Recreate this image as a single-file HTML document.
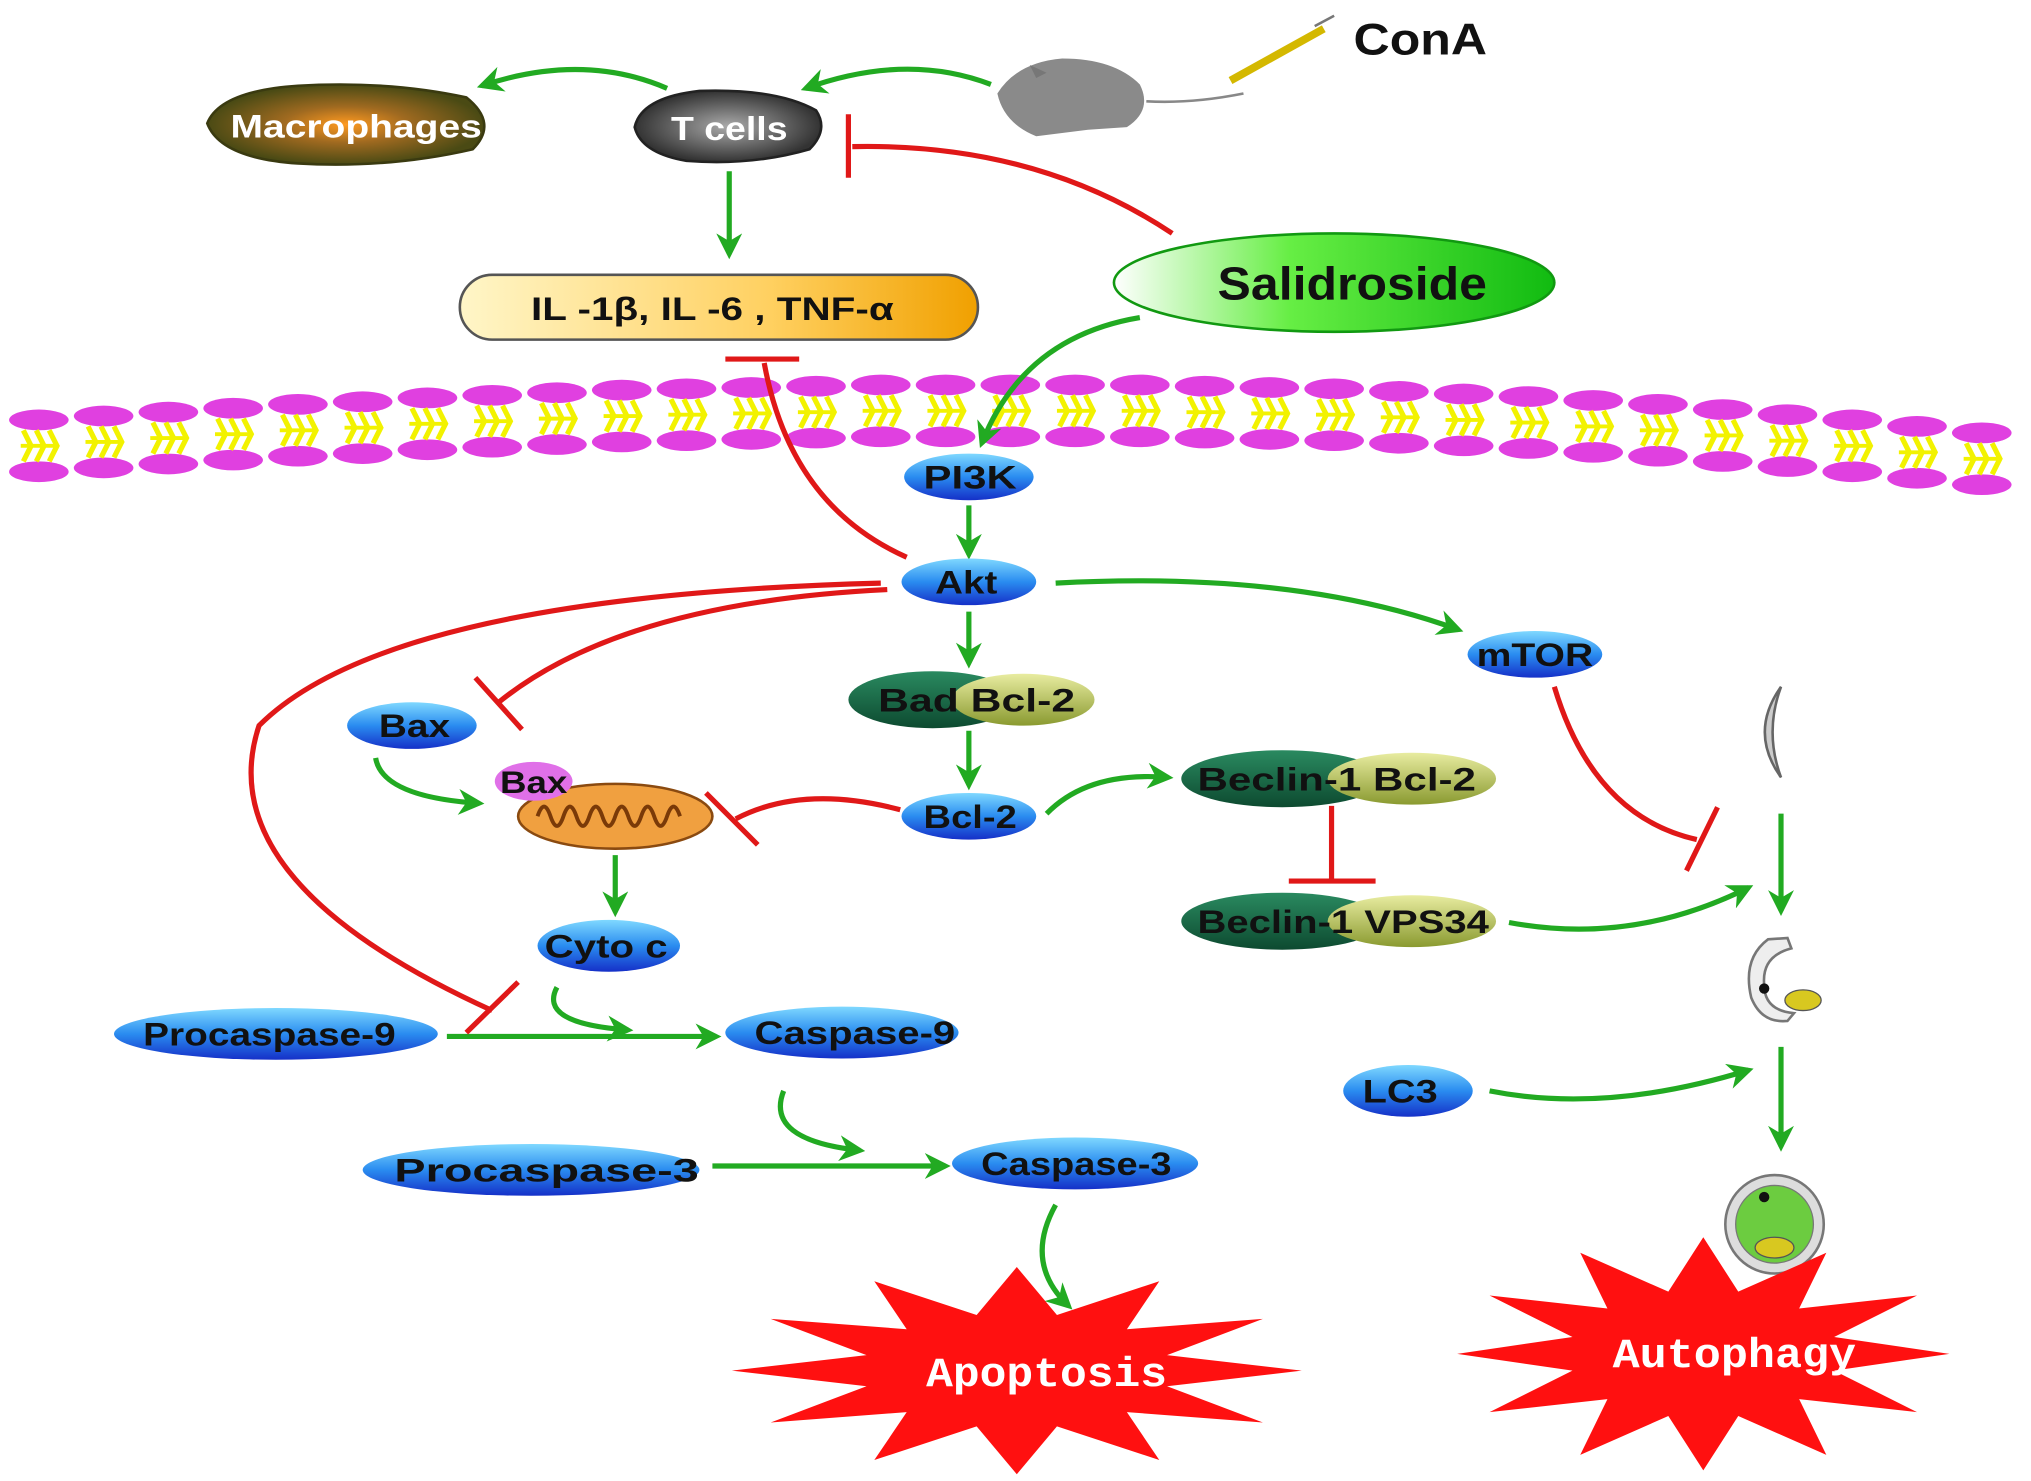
<!DOCTYPE html>
<html><head><meta charset="utf-8"><style>html,body{margin:0;padding:0;background:#fff}svg{display:block}</style></head>
<body>
<svg width="2031" height="1481" viewBox="0 0 1568 1143" xmlns="http://www.w3.org/2000/svg" font-family="Liberation Sans, sans-serif" font-weight="bold">
<defs>
<marker id="ga" viewBox="0 0 10 10" refX="8" refY="5" markerWidth="5" markerHeight="5" orient="auto-start-reverse" markerUnits="strokeWidth"><path d="M0,0 L10,5 L0,10 L3,5 z" fill="#22aa22"/></marker>
<linearGradient id="blue" x1="0" y1="0" x2="0" y2="1"><stop offset="0" stop-color="#7fd8ff"/><stop offset="0.5" stop-color="#2a8cf0"/><stop offset="1" stop-color="#1530c8"/></linearGradient>
<linearGradient id="yel" x1="0" y1="0" x2="1" y2="0"><stop offset="0" stop-color="#fff6c8"/><stop offset="0.6" stop-color="#ffd060"/><stop offset="1" stop-color="#f0a000"/></linearGradient>
<linearGradient id="grn" x1="0" y1="0" x2="1" y2="0"><stop offset="0" stop-color="#ffffff"/><stop offset="0.4" stop-color="#66ee44"/><stop offset="1" stop-color="#11bb11"/></linearGradient>
<linearGradient id="dg" x1="0" y1="0" x2="0" y2="1"><stop offset="0" stop-color="#2a8a60"/><stop offset="1" stop-color="#0d4a30"/></linearGradient>
<linearGradient id="ol" x1="0" y1="0" x2="0" y2="1"><stop offset="0" stop-color="#e8eca0"/><stop offset="1" stop-color="#8a9a30"/></linearGradient>
<radialGradient id="mac"><stop offset="0" stop-color="#ff9a20"/><stop offset="0.45" stop-color="#a06a20"/><stop offset="1" stop-color="#4a4a14"/></radialGradient>
<radialGradient id="tc"><stop offset="0" stop-color="#aaa"/><stop offset="1" stop-color="#333"/></radialGradient>
<g id="mem"><ellipse cx="0" cy="0" rx="23" ry="8" fill="#e040e0"/><ellipse cx="0" cy="40" rx="23" ry="8" fill="#e040e0"/><path d="M-12,8 L-6,20 L-12,32 M-2,8 L4,20 L-2,32 M8,8 L14,20 L8,32" stroke="#f2f200" stroke-width="4" fill="none"/><path d="M-14,20 L14,20" stroke="#f2f200" stroke-width="3"/></g>
</defs>

<g>
<use href="#mem" x="30" y="324"/><use href="#mem" x="80" y="321"/><use href="#mem" x="130" y="318"/><use href="#mem" x="180" y="315"/><use href="#mem" x="230" y="312"/><use href="#mem" x="280" y="310"/><use href="#mem" x="330" y="307"/><use href="#mem" x="380" y="305"/><use href="#mem" x="430" y="303"/><use href="#mem" x="480" y="301"/><use href="#mem" x="530" y="300"/><use href="#mem" x="580" y="299"/><use href="#mem" x="630" y="298"/><use href="#mem" x="680" y="297"/><use href="#mem" x="730" y="297"/><use href="#mem" x="780" y="297"/><use href="#mem" x="830" y="297"/><use href="#mem" x="880" y="297"/><use href="#mem" x="930" y="298"/><use href="#mem" x="980" y="299"/><use href="#mem" x="1030" y="300"/><use href="#mem" x="1080" y="302"/><use href="#mem" x="1130" y="304"/><use href="#mem" x="1180" y="306"/><use href="#mem" x="1230" y="309"/><use href="#mem" x="1280" y="312"/><use href="#mem" x="1330" y="316"/><use href="#mem" x="1380" y="320"/><use href="#mem" x="1430" y="324"/><use href="#mem" x="1480" y="329"/><use href="#mem" x="1530" y="334"/>
</g>

<text x="1045" y="42" font-size="34" fill="#111" textLength="103" lengthAdjust="spacingAndGlyphs">ConA</text>
<path d="M770,72 Q785,48 820,45 Q860,45 880,65 Q890,85 870,98 L840,100 L800,105 Q775,95 770,72z" fill="#8a8a8a"/>
<path d="M800,60 L795,50 L808,56z" fill="#777"/>
<path d="M885,78 Q920,80 960,72" stroke="#888" stroke-width="2" fill="none"/>
<path d="M950,62 L1022,22" stroke="#d4b800" stroke-width="6"/><path d="M1015,20 L1030,12" stroke="#777" stroke-width="2"/>

<path d="M160,95 Q170,70 230,66 Q300,62 360,75 Q385,95 365,115 Q300,130 230,126 Q170,122 160,95z" fill="url(#mac)" stroke="#3a3a10" stroke-width="2"/>
<text x="275" y="106" font-size="25" fill="#fff" text-anchor="middle" textLength="194" lengthAdjust="spacingAndGlyphs">Macrophages</text>
<path d="M490,98 Q495,75 540,70 Q600,68 630,85 Q640,100 625,115 Q580,128 530,124 Q495,118 490,98z" fill="url(#tc)" stroke="#222" stroke-width="2"/>
<text x="563" y="108" font-size="26" fill="#fff" text-anchor="middle" textLength="90" lengthAdjust="spacingAndGlyphs">T cells</text>

<g stroke="#22aa22" stroke-width="4" fill="none" marker-end="url(#ga)">
<path d="M765,65 Q700,40 622,68"/>
<path d="M515,68 Q450,40 372,66"/>
<path d="M563,132 L563,196"/>
<path d="M880,245 Q790,260 758,342"/>
<path d="M748,390 L748,428"/>
<path d="M748,472 L748,512"/>
<path d="M748,564 L748,606"/>
<path d="M815,450 Q1000,440 1126,486"/>
<path d="M808,628 Q840,595 902,600"/>
<path d="M1165,712 Q1260,730 1350,685"/>
<path d="M1150,842 Q1240,860 1350,826"/>
<path d="M1375,628 L1375,703"/>
<path d="M1375,808 L1375,885"/>
<path d="M290,585 Q295,615 370,620"/>
<path d="M475,660 L475,704"/>
<path d="M430,762 Q415,790 485,795"/>
<path d="M345,800 L553,800"/>
<path d="M605,842 Q590,880 664,888"/>
<path d="M550,900 L730,900"/>
<path d="M815,930 Q790,975 825,1008"/>
</g>

<g stroke="#e01818" stroke-width="4" fill="none">
<path d="M905,180 Q800,110 658,113"/><path d="M655,88 L655,137"/>
<path d="M700,430 Q610,390 590,280"/><path d="M560,277 L617,277"/>
<path d="M1200,530 Q1230,630 1310,648"/><path d="M1302,672 L1326,623"/>
<path d="M1028,622 L1028,678"/><path d="M995,680 L1062,680"/>
<path d="M695,625 Q620,605 568,632"/><path d="M545,612 L585,652"/>
<path d="M685,455 Q480,465 385,542"/><path d="M367,523 L403,563"/>
<path d="M680,450 Q300,460 200,560 Q160,680 380,780"/><path d="M360,797 L400,758"/>
</g>

<rect x="355" y="212" width="400" height="50" rx="25" fill="url(#yel)" stroke="#555" stroke-width="2"/>
<text x="550" y="247" font-size="25" fill="#111" text-anchor="middle" textLength="280" lengthAdjust="spacingAndGlyphs">IL -1β, IL -6 , TNF-α</text>

<ellipse cx="1030" cy="218" rx="170" ry="38" fill="url(#grn)" stroke="#119911" stroke-width="2"/>
<text x="1044" y="231" font-size="36" fill="#111" text-anchor="middle" textLength="208" lengthAdjust="spacingAndGlyphs">Salidroside</text>

<g fill="url(#blue)">
<ellipse cx="748" cy="368" rx="50" ry="18"/><ellipse cx="748" cy="449" rx="52" ry="18"/>
<ellipse cx="748" cy="630" rx="52" ry="18"/><ellipse cx="1185" cy="505" rx="52" ry="18"/>
<ellipse cx="318" cy="560" rx="50" ry="18"/><ellipse cx="470" cy="730" rx="55" ry="20"/>
<ellipse cx="213" cy="798" rx="125" ry="20"/><ellipse cx="650" cy="797" rx="90" ry="20"/>
<ellipse cx="410" cy="903" rx="130" ry="20"/><ellipse cx="830" cy="898" rx="95" ry="20"/>
<ellipse cx="1087" cy="842" rx="50" ry="20"/>
</g>
<g font-size="25" fill="#111" text-anchor="middle" lengthAdjust="spacingAndGlyphs">
<text x="749" y="377" textLength="72" lengthAdjust="spacingAndGlyphs">PI3K</text>
<text x="746" y="458" textLength="48" lengthAdjust="spacingAndGlyphs">Akt</text>
<text x="749" y="639" textLength="72" lengthAdjust="spacingAndGlyphs">Bcl-2</text>
<text x="1185" y="514" textLength="90" lengthAdjust="spacingAndGlyphs">mTOR</text>
<text x="320" y="569" textLength="55" lengthAdjust="spacingAndGlyphs">Bax</text>
<text x="468" y="739" textLength="95" lengthAdjust="spacingAndGlyphs">Cyto c</text>
<text x="208" y="807" textLength="195" lengthAdjust="spacingAndGlyphs">Procaspase-9</text>
<text x="660" y="806" textLength="155" lengthAdjust="spacingAndGlyphs">Caspase-9</text>
<text x="422" y="912" textLength="235" lengthAdjust="spacingAndGlyphs">Procaspase-3</text>
<text x="831" y="907" textLength="147" lengthAdjust="spacingAndGlyphs">Caspase-3</text>
<text x="1081" y="851" textLength="58" lengthAdjust="spacingAndGlyphs">LC3</text>
</g>

<g>
<ellipse cx="720" cy="540" rx="65" ry="22" fill="url(#dg)"/><ellipse cx="790" cy="540" rx="55" ry="20" fill="url(#ol)"/>
<text x="754" y="549" font-size="25" fill="#111" text-anchor="middle" textLength="152" lengthAdjust="spacingAndGlyphs">Bad  Bcl-2</text>
<ellipse cx="990" cy="601" rx="78" ry="22" fill="url(#dg)"/><ellipse cx="1090" cy="601" rx="65" ry="20" fill="url(#ol)"/>
<text x="1032" y="610" font-size="25" fill="#111" text-anchor="middle" textLength="215" lengthAdjust="spacingAndGlyphs">Beclin-1  Bcl-2</text>
<ellipse cx="990" cy="711" rx="78" ry="22" fill="url(#dg)"/><ellipse cx="1090" cy="711" rx="65" ry="20" fill="url(#ol)"/>
<text x="1037" y="720" font-size="25" fill="#111" text-anchor="middle" textLength="225" lengthAdjust="spacingAndGlyphs">Beclin-1 VPS34</text>
</g>

<ellipse cx="475" cy="630" rx="75" ry="25" fill="#f0a040" stroke="#8a4a10" stroke-width="2"/>
<path d="M415,630 q5,-15 10,0 q5,15 10,0 q5,-15 10,0 q5,15 10,0 q5,-15 10,0 q5,15 10,0 q5,-15 10,0 q5,15 10,0 q5,-15 10,0 q5,15 10,0 q5,-15 10,0" stroke="#7a3a08" stroke-width="3" fill="none"/>
<ellipse cx="412" cy="603" rx="30" ry="15" fill="#e070e8"/>
<text x="412" y="612" font-size="24" fill="#111" text-anchor="middle" textLength="52" lengthAdjust="spacingAndGlyphs">Bax</text>

<path d="M1375,530 Q1350,565 1375,600 Q1362,565 1375,530z" fill="#ccc" stroke="#666" stroke-width="2"/>
<path d="M1365,725 Q1345,740 1352,770 Q1360,790 1380,788 L1385,782 Q1362,780 1362,760 Q1360,738 1383,732 L1380,724z" fill="#eee" stroke="#777" stroke-width="2"/>
<circle cx="1362" cy="763" r="4" fill="#111"/><ellipse cx="1392" cy="772" rx="14" ry="8" fill="#d8c820" stroke="#555"/>
<circle cx="1370" cy="945" r="38" fill="#ddd" stroke="#777" stroke-width="2"/><circle cx="1370" cy="945" r="30" fill="#6ccc40" stroke="#777"/>
<circle cx="1362" cy="924" r="4" fill="#111"/><ellipse cx="1370" cy="963" rx="15" ry="8" fill="#d8c820" stroke="#555"/>

<polygon fill="#ff1010" points="1005,1058 901,1070 975,1098 870,1090 895,1127 816,1101 785,1138 754,1101 675,1127 700,1090 595,1098 669,1070 565,1058 669,1046 595,1018 700,1026 675,989 754,1015 785,978 816,1015 895,989 870,1026 975,1018 901,1046"/>
<text x="808" y="1070" font-family="Liberation Mono, monospace" font-size="32" fill="#fff" text-anchor="middle" textLength="186" lengthAdjust="spacingAndGlyphs">Apoptosis</text>
<polygon fill="#ff1010" points="1505,1045 1416,1058 1480,1090 1389,1080 1410,1123 1342,1093 1315,1135 1288,1093 1220,1123 1241,1080 1150,1090 1214,1058 1125,1045 1214,1032 1150,1000 1241,1010 1220,967 1288,997 1315,955 1342,997 1410,967 1389,1010 1480,1000 1416,1032"/>
<text x="1339" y="1055" font-family="Liberation Mono, monospace" font-size="32" fill="#fff" text-anchor="middle" textLength="188" lengthAdjust="spacingAndGlyphs">Autophagy</text>
</svg>
</body></html>
